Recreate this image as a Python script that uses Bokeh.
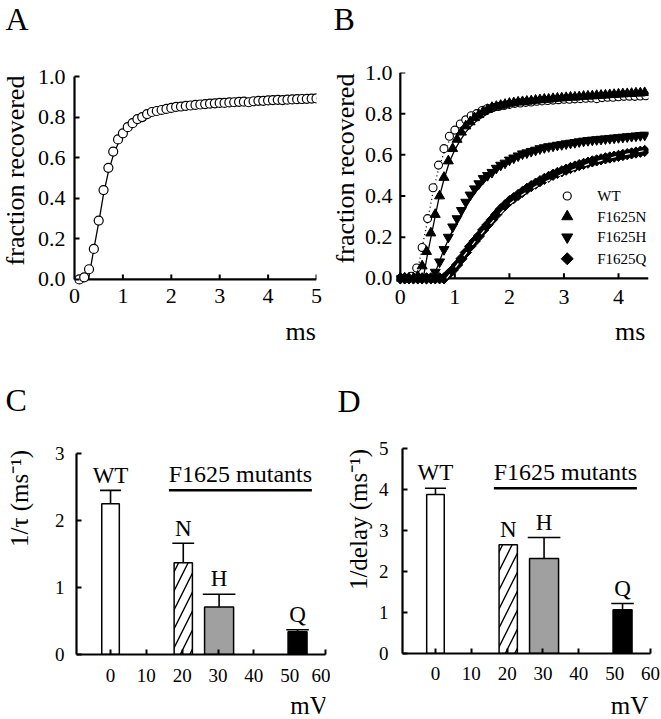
import numpy as np
from bokeh.plotting import figure
from bokeh.layouts import row, column
from bokeh.models import Range1d, FixedTicker, ColumnDataSource, NumeralTickFormatter
from bokeh.embed import file_html
from bokeh.resources import INLINE
from bokeh.core.properties import value

FONT = "Liberation Serif"
MID = 0.36  # distance (in em) from the em-box middle to the alphabetic baseline

# ---------------- Panel A / B data ----------------
# WT recovery, sampled every 0.1 ms
wt_t = [round(0.1 * i, 2) for i in range(1, 51)]
wt_frac = [0.00, 0.01, 0.05, 0.15, 0.29, 0.44, 0.55, 0.63, 0.69, 0.72,
           0.75, 0.77, 0.79, 0.80, 0.815, 0.825, 0.83, 0.835, 0.84, 0.845,
           0.85, 0.852, 0.855, 0.857, 0.86, 0.862, 0.864, 0.866, 0.868, 0.87,
           0.87, 0.872, 0.873, 0.875, 0.876, 0.873, 0.878, 0.88, 0.88, 0.882,
           0.884, 0.885, 0.884, 0.886, 0.887, 0.888, 0.889, 0.89, 0.891, 0.892]
wt_fit_t = [0.29, 0.4, 0.5, 0.6, 0.7, 0.8, 0.9, 1.0, 1.1, 1.2, 1.3, 1.4, 1.6, 1.8,
            2.0, 2.5, 3.0, 3.5, 4.0, 4.5, 5.0]
wt_fit_y = [0.0, 0.15, 0.28, 0.42, 0.53, 0.61, 0.67, 0.715, 0.745, 0.77, 0.79, 0.805,
            0.823, 0.836, 0.845, 0.86, 0.87, 0.877, 0.883, 0.888, 0.892]

# Mutants, sampled every 0.08 ms
mut_t = [round(0.08 * i, 2) for i in range(57)]
n_frac = [0, 0, 0, 0, 0.01, 0.06, 0.13, 0.22, 0.31, 0.40,
          0.49, 0.57, 0.63, 0.675, 0.71, 0.74, 0.76, 0.78, 0.795, 0.81,
          0.82, 0.83, 0.835, 0.84, 0.845, 0.85, 0.853, 0.856, 0.858, 0.86,
          0.862, 0.865, 0.867, 0.87, 0.87, 0.873, 0.875, 0.876, 0.878, 0.88,
          0.88, 0.882, 0.884, 0.885, 0.886, 0.888, 0.889, 0.89, 0.892, 0.893,
          0.895, 0.896, 0.897, 0.898, 0.90, 0.90, 0.902]
h_frac = [0, 0, 0, 0, 0, 0, 0, 0, 0.03, 0.08,
          0.14, 0.20, 0.25, 0.29, 0.33, 0.37, 0.405, 0.435, 0.46, 0.485,
          0.50, 0.515, 0.535, 0.55, 0.56, 0.575, 0.585, 0.595, 0.605, 0.61,
          0.617, 0.623, 0.63, 0.635, 0.64, 0.643, 0.647, 0.65, 0.654, 0.657,
          0.66, 0.664, 0.667, 0.67, 0.672, 0.674, 0.676, 0.678, 0.68, 0.682,
          0.684, 0.686, 0.688, 0.69, 0.692, 0.694, 0.696]
q_frac = [0, 0, 0, 0, 0, 0, 0, 0, 0, 0,
          0, 0.02, 0.04, 0.065, 0.095, 0.125, 0.155, 0.18, 0.205, 0.235,
          0.26, 0.285, 0.31, 0.335, 0.355, 0.375, 0.39, 0.405, 0.42, 0.435,
          0.448, 0.46, 0.472, 0.483, 0.493, 0.503, 0.512, 0.52, 0.528, 0.536,
          0.543, 0.55, 0.556, 0.562, 0.568, 0.573, 0.578, 0.583, 0.587, 0.591,
          0.595, 0.599, 0.603, 0.607, 0.611, 0.615, 0.619]
n_fit_t = [0.42, 0.5, 0.6, 0.7, 0.8, 0.9, 1.0, 1.1, 1.2, 1.3, 1.4, 1.6, 1.8, 2.0,
           2.5, 3.0, 3.5, 4.0, 4.5]
n_fit_y = [0.0, 0.12, 0.25, 0.38, 0.48, 0.565, 0.625, 0.67, 0.71, 0.74, 0.765, 0.80,
           0.825, 0.843, 0.864, 0.876, 0.886, 0.894, 0.90]
h_fit_t = [0.6, 0.7, 0.8, 0.9, 1.0, 1.2, 1.4, 1.6, 1.8, 2.0, 2.2, 2.5, 3.0, 3.5, 4.0, 4.5]
h_fit_y = [0.0, 0.07, 0.14, 0.20, 0.255, 0.35, 0.425, 0.485, 0.53, 0.565, 0.59, 0.62,
           0.652, 0.673, 0.687, 0.697]
q_fit_t = [0.85, 1.0, 1.2, 1.4, 1.6, 1.8, 2.0, 2.2, 2.5, 3.0, 3.5, 4.0, 4.5]
q_fit_y = [0.0, 0.05, 0.12, 0.19, 0.25, 0.305, 0.36, 0.40, 0.448, 0.51, 0.56, 0.595, 0.622]

legend_labels = ["WT", "F1625N", "F1625H", "F1625Q"]

ms_ticks_A = [0, 1, 2, 3, 4, 5]
ms_ticks_B = [0, 1, 2, 3, 4]
frac_ticks = [0.0, 0.2, 0.4, 0.6, 0.8, 1.0]

# ---------------- Panel C / D data ----------------
groups = ["WT", "N", "H", "Q"]
mv = [0.0, 20.3, 30.3, 52.2]
bar_w = [4.9, 5.1, 8.1, 5.3]
bar_fill = ["white", "white", "#a0a0a0", "black"]
bar_hatch = [" ", "/", " ", " "]
tau_inv = [2.25, 1.37, 0.71, 0.34]
tau_inv_err = [0.20, 0.29, 0.19, 0.03]
delay_inv = [3.88, 2.65, 2.32, 1.07]
delay_inv_err = [0.15, 0.0, 0.51, 0.15]
mv_ticks = [0, 10, 20, 30, 40, 50, 60]
tau_ticks = [0, 1, 2, 3]
delay_ticks = [0, 1, 2, 3, 4, 5]


def base_fig(w, h, xr, yr, lb, rb, tb, bb):
    p = figure(width=w, height=h, x_range=Range1d(*xr), y_range=Range1d(*yr),
               output_backend="svg", toolbar_location=None,
               min_border_left=lb, min_border_right=rb,
               min_border_top=tb, min_border_bottom=bb)
    p.grid.visible = False
    p.outline_line_color = None
    p.background_fill_color = "white"
    p.border_fill_color = "white"
    return p


def strip(x0, x1, y0, y1):
    """Text strip whose data coordinates are page pixels (y negated)."""
    p = figure(width=x1 - x0, height=y1 - y0, x_range=Range1d(x0, x1),
               y_range=Range1d(-y1, -y0), x_axis_type=None, y_axis_type=None,
               output_backend="svg", toolbar_location=None,
               min_border_left=0, min_border_right=0,
               min_border_top=0, min_border_bottom=0)
    p.grid.visible = False
    p.outline_line_color = None
    p.background_fill_color = "white"
    p.border_fill_color = "white"
    return p


def put(p, x, base, txt, fs, rotated=False, align="left"):
    """Place text so that its alphabetic baseline lies at `base` (page px)."""
    if rotated:
        p.text(x=[base - MID * fs], y=[-x], text=[txt], text_font=value(FONT),
               text_font_size=f"{fs}px", angle=np.pi / 2, text_align="center",
               text_baseline="middle", text_color="black")
    else:
        p.text(x=[x], y=[-(base - MID * fs)], text=[txt], text_font=value(FONT),
               text_font_size=f"{fs}px", text_align=align,
               text_baseline="middle", text_color="black")


def style_axes(p, size, xstand, ystand):
    for ax in p.axis:
        ax.axis_line_width = 2.2
        ax.axis_line_color = "black"
        ax.major_tick_in = 5
        ax.major_tick_out = 0
        ax.major_tick_line_width = 2
        ax.minor_tick_in = 0
        ax.minor_tick_out = 0
        ax.major_label_text_font = FONT
        ax.major_label_text_font_size = size
        ax.major_label_text_color = "black"
    p.xaxis.major_label_standoff = xstand
    p.yaxis.major_label_standoff = ystand


# ---------------- Panel A ----------------
A_YR = (-0.035, 1.0)
A_FH = 210
pA = base_fig(296, 316, (0, 5), A_YR, 39, 14, 76, 30)
style_axes(pA, "22px", 2, 9)
pA.xaxis.ticker = FixedTicker(ticks=ms_ticks_A)
pA.yaxis.ticker = FixedTicker(ticks=frac_ticks)
pA.yaxis.formatter = NumeralTickFormatter(format="0.0")
pA.yaxis.bounds = (0, 1)
pA.xaxis.axis_line_color = None
pA.xaxis.major_tick_in = 0
# x axis line drawn at y = 0 (frame extends a little below so markers are not cut)
tA = 5 * (A_YR[1] - A_YR[0]) / A_FH
pA.segment(x0=[ms_ticks_A[0]], y0=[0], x1=[ms_ticks_A[-1]], y1=[0],
           line_color="black", line_width=2.2)
pA.segment(x0=ms_ticks_A[1:], y0=[0] * 5, x1=ms_ticks_A[1:], y1=[tA] * 5,
           line_color="black", line_width=2)
pA.line(wt_fit_t, wt_fit_y, line_color="black", line_width=1.3)
pA.scatter(wt_t, wt_frac, marker="circle", size=9, fill_color="white",
           line_color="black", line_width=1.2)

# ---------------- Panel B ----------------
B_XR = (-0.07, 4.55)
B_YR = (-0.035, 1.0)
B_FW = 252
B_FH = 213
pB = base_fig(301, 316, B_XR, B_YR, 36, 13, 72, 31)
style_axes(pB, "22px", 4, 4)
pB.xaxis.ticker = FixedTicker(ticks=ms_ticks_B)
pB.yaxis.ticker = FixedTicker(ticks=frac_ticks)
pB.yaxis.formatter = NumeralTickFormatter(format="0.0")
for ax in pB.axis:
    ax.axis_line_color = None
    ax.major_tick_in = 0
tBy = 5 * (B_YR[1] - B_YR[0]) / B_FH
tBx = 5 * (B_XR[1] - B_XR[0]) / B_FW
pB.segment(x0=[0, 0], y0=[0, 0], x1=[B_XR[1], 0], y1=[0, frac_ticks[-1]],
           line_color="black", line_width=2.2)
pB.segment(x0=ms_ticks_B[1:], y0=[0] * 4, x1=ms_ticks_B[1:], y1=[tBy] * 4,
           line_color="black", line_width=2)
pB.segment(x0=[0] * 5, y0=frac_ticks[1:], x1=[tBx] * 5, y1=frac_ticks[1:],
           line_color="black", line_width=2)

wt_tB = [t for t in wt_t if t <= 4.5]
wt_fB = wt_frac[:len(wt_tB)]
pB.line(wt_fit_t, wt_fit_y, line_color="black", line_width=1.3, line_dash="1 3")
pB.line(n_fit_t, n_fit_y, line_color="black", line_width=1.3)
pB.line(h_fit_t, h_fit_y, line_color="black", line_width=1.3)
pB.scatter(mut_t, q_frac, marker="square", angle=np.pi / 4, size=8,
           fill_color="black", line_color="black")
pB.line(q_fit_t, q_fit_y, line_color="white", line_width=1.2, line_dash="5 9")
pB.scatter(mut_t, h_frac, marker="inverted_triangle", size=10,
           fill_color="black", line_color="black")
pB.scatter(wt_tB, wt_fB, marker="circle", size=8, fill_color="white",
           line_color="black", line_width=1.1)
pB.scatter(mut_t, n_frac, marker="triangle", size=10,
           fill_color="black", line_color="black")

# legend (drawn manually)
leg_x = 3.06
leg_tx = 3.61
leg_y = [0.40, 0.30, 0.20, 0.095]
pB.scatter([leg_x], [leg_y[0]], marker="circle", size=8, fill_color="white",
           line_color="black", line_width=1.2)
pB.scatter([leg_x], [leg_y[1]], marker="triangle", size=11, fill_color="black",
           line_color="black")
pB.scatter([leg_x], [leg_y[2]], marker="inverted_triangle", size=11,
           fill_color="black", line_color="black")
pB.scatter([leg_x], [leg_y[3]], marker="square", angle=np.pi / 4, size=8.5,
           fill_color="black", line_color="black")
pB.text([leg_tx] * 4, leg_y, text=legend_labels, text_font=value(FONT),
        text_font_size="15px", text_baseline="middle", text_align="left",
        text_color="black")


# ---------------- Bar panels ----------------
def bar_panel(p, vals, errs, lab_fs=23, title_fs=24):
    top = [v + e for v, e in zip(vals, errs)]
    src = ColumnDataSource(dict(x=mv, w=bar_w, top=vals, fill=bar_fill,
                                hatch=bar_hatch))
    p.vbar(x="x", width="w", top="top", bottom=0, source=src,
           fill_color="fill", line_color="black", line_width=1.5,
           hatch_pattern="hatch", hatch_color="black", hatch_weight=1.4,
           hatch_scale=19)
    ex = [x for x, e in zip(mv, errs) if e > 0]
    ev = [v for v, e in zip(vals, errs) if e > 0]
    et = [t for t, e in zip(top, errs) if e > 0]
    ew = [w + 1.0 for w, e in zip(bar_w, errs) if e > 0]
    p.segment(x0=ex, y0=ev, x1=ex, y1=et, line_color="black", line_width=1.6)
    p.segment(x0=[x - w / 2 for x, w in zip(ex, ew)], y0=et,
              x1=[x + w / 2 for x, w in zip(ex, ew)], y1=et,
              line_color="black", line_width=1.6)
    # letters: baseline ~7 px above the top of each bar / error bar
    p.text(x=mv, y=top, text=groups, text_font=value(FONT),
           text_font_size=f"{lab_fs}px", text_align="center",
           text_baseline="middle", y_offset=-(7 + MID * lab_fs), text_color="black")
    lx0 = min(mv[1:]) - 4
    lx1 = max(mv[1:]) + 4
    ly = top[0]
    p.line([lx0, lx1], [ly, ly], line_color="black", line_width=2.5)
    p.text(x=[(lx0 + lx1) / 2], y=[ly], text=["F1625 mutants"], text_font=value(FONT),
           text_font_size=f"{title_fs}px", text_align="center", text_baseline="middle",
           y_offset=-(8 + MID * title_fs), text_color="black")


pC = base_fig(290, 338, (-9.5, 60), (0, 3), 36, 5, 100, 37)
style_axes(pC, "19px", 14, 12)
pC.xaxis.ticker = FixedTicker(ticks=mv_ticks)
pC.yaxis.ticker = FixedTicker(ticks=tau_ticks)
bar_panel(pC, tau_inv, tau_inv_err)

pD = base_fig(287, 338, (-9.2, 60), (0, 5), 28, 11, 95, 38)
style_axes(pD, "19px", 13, 14)
pD.xaxis.ticker = FixedTicker(ticks=mv_ticks)
pD.yaxis.ticker = FixedTicker(ticks=delay_ticks)
bar_panel(pD, delay_inv, delay_inv_err)

# ---------------- text strips (page-pixel coordinates) ----------------
sA = strip(0, 34, 0, 353)
put(sA, 5, 30, "A", 32)
put(sA, 170, 24, "fraction recovered", 26, rotated=True)
msA = strip(34, 330, 316, 353)
put(msA, 292, 340, "ms", 26)

sB = strip(330, 360, 0, 353)
put(sB, 333, 30, "B", 32)
put(sB, 168, 354, "fraction recovered", 26, rotated=True)
msB = strip(360, 661, 316, 353)
put(msB, 621, 340, "ms", 26)

sC = strip(0, 40, 353, 719)
put(sC, 5, 411, "C", 32)
put(sC, 498, 28, "1/τ (ms⁻¹)", 25, rotated=True)
mvC = strip(40, 330, 691, 719)
put(mvC, 289, 714, "mV", 25)

sD = strip(330, 374, 353, 719)
put(sD, 337, 412, "D", 32)
put(sD, 519, 367, "1/delay (ms⁻¹)", 25, rotated=True)
mvD = strip(374, 661, 691, 719)
put(mvD, 615, 714, "mV", 25)

layout = column(
    row(sA, column(pA, msA), sB, column(pB, msB)),
    row(sC, column(pC, mvC), sD, column(pD, mvD)),
)
open("out.html", "w").write(file_html(layout, INLINE))
